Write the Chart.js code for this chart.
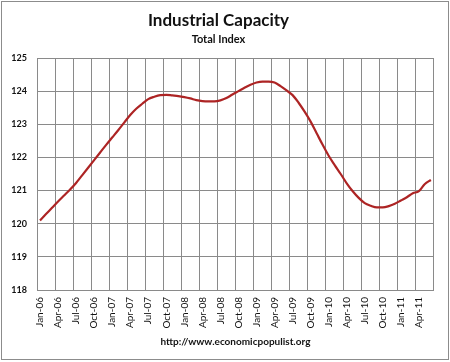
<!DOCTYPE html>
<html>
<head>
<meta charset="utf-8">
<script src="https://cdn.jsdelivr.net/npm/chart.js@4/dist/chart.umd.min.js"></script>
<style>
  html, body { margin: 0; padding: 0; background: #fff; }
  #wrap { width: 450px; height: 362px; }
</style>
</head>
<body>
<div id="wrap"><canvas id="c" width="450" height="362"></canvas></div>
<script>
const months = [
  'Jan-06','Feb-06','Mar-06','Apr-06','May-06','Jun-06','Jul-06','Aug-06','Sep-06','Oct-06','Nov-06','Dec-06',
  'Jan-07','Feb-07','Mar-07','Apr-07','May-07','Jun-07','Jul-07','Aug-07','Sep-07','Oct-07','Nov-07','Dec-07',
  'Jan-08','Feb-08','Mar-08','Apr-08','May-08','Jun-08','Jul-08','Aug-08','Sep-08','Oct-08','Nov-08','Dec-08',
  'Jan-09','Feb-09','Mar-09','Apr-09','May-09','Jun-09','Jul-09','Aug-09','Sep-09','Oct-09','Nov-09','Dec-09',
  'Jan-10','Feb-10','Mar-10','Apr-10','May-10','Jun-10','Jul-10','Aug-10','Sep-10','Oct-10','Nov-10','Dec-10',
  'Jan-11','Feb-11','Mar-11','Apr-11','May-11','Jun-11'
];
const capacityIndex = [
  120.10, 120.29, 120.48, 120.67, 120.85, 121.03, 121.23, 121.46, 121.69, 121.92, 122.15, 122.38,
  122.60, 122.82, 123.05, 123.28, 123.47, 123.62, 123.76, 123.83, 123.88, 123.89, 123.87, 123.85,
  123.82, 123.78, 123.73, 123.70, 123.69, 123.69, 123.72, 123.79, 123.90, 124.00, 124.10, 124.19,
  124.26, 124.29, 124.29, 124.26, 124.15, 124.02, 123.88, 123.65, 123.38, 123.08, 122.73, 122.38,
  122.05, 121.77, 121.50, 121.22, 120.98, 120.78, 120.62, 120.54, 120.49, 120.49, 120.53, 120.60,
  120.70, 120.80, 120.92, 120.98, 121.20, 121.32
];
const titleText = 'Industrial Capacity';
const subtitleText = 'Total Index';
const footerText = 'http://www.economicpopulist.org';
const yMin = 118, yMax = 125;

const GRID = '#8a8a8a';
const TEXT = '#111111';
const FONT = 'Lato, "Open Sans", sans-serif';

const borderPlugin = {
  id: 'outerBorder',
  afterDraw(chart) {
    const ctx = chart.ctx;
    ctx.save();
    ctx.strokeStyle = '#8c8c8c';
    ctx.lineWidth = 1;
    ctx.strokeRect(1.5, 1.5, 447, 358);
    ctx.restore();
  }
};

new Chart(document.getElementById('c'), {
  type: 'line',
  data: {
    labels: months,
    datasets: [{
      data: capacityIndex,
      borderColor: '#AD2424',
      borderWidth: 2.2,
      pointRadius: 0,
      fill: false,
      tension: 0.4,
      cubicInterpolationMode: 'monotone'
    }]
  },
  options: {
    responsive: false,
    animation: false,
    devicePixelRatio: 1,
    layout: { padding: { top: 0, right: 13, bottom: 0, left: 0 } },
    plugins: {
      legend: { display: false },
      tooltip: { enabled: false },
      title: {
        display: true,
        text: titleText,
        color: TEXT,
        font: { family: FONT, size: 17, weight: 'bold', lineHeight: 1.2 },
        padding: { top: 10.5, bottom: 0 }
      },
      subtitle: {
        display: true,
        text: subtitleText,
        color: TEXT,
        font: { family: FONT, size: 11, weight: 'bold', lineHeight: 1.2 },
        padding: { top: 1.5, bottom: 12.4 }
      }
    },
    scales: {
      x: {
        type: 'category',
        offset: true,
        grid: {
          offset: true,
          drawTicks: false,
          lineWidth: 1,
          color: (ctx) => (ctx.index === undefined || ctx.index % 3 === 0) ? GRID : 'rgba(0,0,0,0)'
        },
        border: { color: GRID, width: 1 },
        ticks: {
          autoSkip: false,
          minRotation: 90,
          maxRotation: 90,
          padding: 7,
          color: TEXT,
          font: { family: FONT, size: 10 },
          callback: function(v, i) { return i % 3 === 0 ? months[i] : ''; }
        },
        title: {
          display: true,
          text: footerText,
          color: TEXT,
          font: { family: FONT, size: 10, weight: 'bold', lineHeight: 1.2 },
          padding: { top: 0, bottom: 14 }
        },
        afterFit: (scale) => { scale.height = 72; }
      },
      y: {
        min: yMin,
        max: yMax,
        grid: { color: GRID, lineWidth: 1, drawTicks: false },
        border: { color: GRID, width: 1 },
        ticks: {
          stepSize: 1,
          padding: 10,
          color: TEXT,
          font: { family: FONT, size: 9, weight: 'bold' }
        },
        afterFit: (scale) => { scale.width = 37; }
      }
    }
  },
  plugins: [borderPlugin]
});
</script>
</body>
</html>
